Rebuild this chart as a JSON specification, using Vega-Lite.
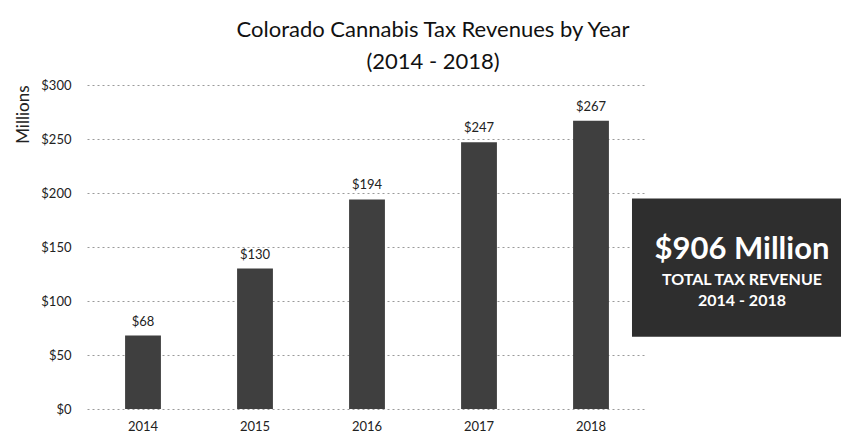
{
  "$schema": "https://vega.github.io/schema/vega-lite/v6.json",
  "background": "white",
  "padding": {"left": 14, "top": 19, "right": 0, "bottom": 5},
  "config": {"view": {"stroke": null}, "font": "Lato"},
  "title": {
    "text": ["Colorado Cannabis Tax Revenues by Year", "(2014 - 2018)"],
    "font": "Lato",
    "fontSize": 22,
    "fontWeight": "normal",
    "color": "#111111",
    "lineHeight": 32,
    "anchor": "middle",
    "dx": 66,
    "offset": 5
  },
  "datasets": {
    "revenue": [
      {"year": "2014", "revenue": 68},
      {"year": "2015", "revenue": 130},
      {"year": "2016", "revenue": 194},
      {"year": "2017", "revenue": 247},
      {"year": "2018", "revenue": 267}
    ],
    "summary": [
      {"headline": "$906 Million", "sub": "TOTAL TAX REVENUE", "period": "2014 - 2018"}
    ]
  },
  "width": 560,
  "height": 324,
  "resolve": {"scale": {"x": "independent"}, "axis": {"x": "independent"}},
  "layer": [
    {
      "data": {"name": "revenue"},
      "encoding": {
        "x": {
          "field": "year",
          "type": "ordinal",
          "scale": {"paddingInner": 0.68, "paddingOuter": 0.34},
          "axis": {
            "title": null,
            "labelAngle": 0,
            "ticks": false,
            "domain": false,
            "labelPadding": 11,
            "labelFontSize": 13,
            "labelColor": "#222222",
            "labelFont": "Lato"
          }
        },
        "y": {
          "field": "revenue",
          "type": "quantitative",
          "scale": {"domain": [0, 300]},
          "axis": {
            "values": [0, 50, 100, 150, 200, 250, 300],
            "format": "$.0f",
            "grid": true,
            "gridDash": [2, 3],
            "gridColor": "#9a9a9a",
            "gridWidth": 1,
            "domain": false,
            "ticks": false,
            "labelPadding": 16,
            "labelFontSize": 13,
            "labelColor": "#222222",
            "labelFont": "Lato",
            "title": "Millions",
            "titleAnchor": "end",
            "titleFontSize": 17,
            "titleFontWeight": "normal",
            "titleFont": "Lato",
            "titleColor": "#222222",
            "titlePadding": 8
          }
        }
      },
      "layer": [
        {"mark": {"type": "bar", "color": "#3f3f3f"}},
        {
          "mark": {"type": "text", "baseline": "bottom", "dy": -7, "fontSize": 13, "color": "#222222", "font": "Lato"},
          "encoding": {"text": {"field": "revenue", "type": "quantitative", "format": "$.0f"}}
        }
      ]
    },
    {
      "data": {"name": "summary"},
      "layer": [
        {
          "mark": {"type": "rect", "color": "#2e2e2e"},
          "encoding": {
            "x": {"datum": 0.9732, "type": "quantitative", "scale": {"domain": [0, 1]}, "axis": null},
            "x2": {"datum": 1.3482},
            "y": {"datum": 67, "type": "quantitative"},
            "y2": {"datum": 195}
          }
        },
        {
          "mark": {"type": "text", "fontSize": 31, "fontWeight": "bold", "color": "white", "font": "Lato", "baseline": "middle"},
          "encoding": {
            "x": {"datum": 1.1696, "type": "quantitative"},
            "y": {"datum": 147.5, "type": "quantitative"},
            "text": {"field": "headline"}
          }
        },
        {
          "mark": {"type": "text", "fontSize": 16, "fontWeight": "bold", "color": "white", "font": "Lato", "baseline": "middle"},
          "encoding": {
            "x": {"datum": 1.1696, "type": "quantitative"},
            "y": {"datum": 119, "type": "quantitative"},
            "text": {"field": "sub"}
          }
        },
        {
          "mark": {"type": "text", "fontSize": 16, "fontWeight": "bold", "color": "white", "font": "Lato", "baseline": "middle"},
          "encoding": {
            "x": {"datum": 1.1696, "type": "quantitative"},
            "y": {"datum": 100, "type": "quantitative"},
            "text": {"field": "period"}
          }
        }
      ]
    }
  ]
}
